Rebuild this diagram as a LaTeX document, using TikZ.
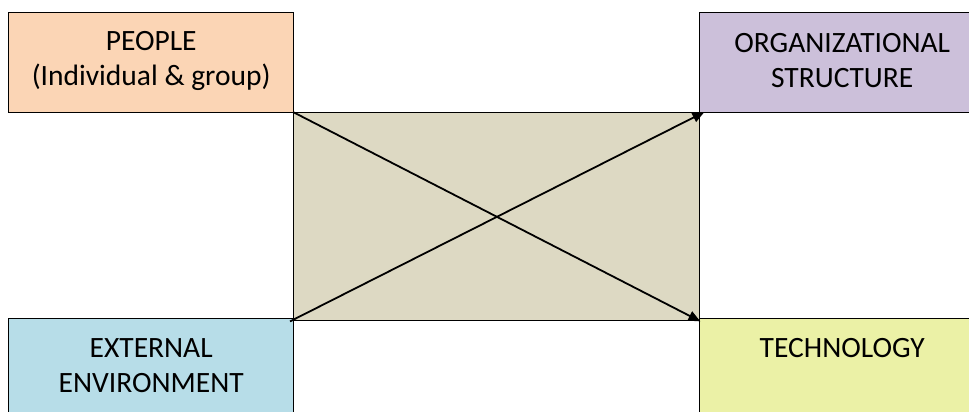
\documentclass[tikz,border=0pt]{standalone}
\usepackage{fontspec}
\setmainfont{Carlito}
\usetikzlibrary{arrows.meta}
\definecolor{peoplefill}{HTML}{FBD5B5}
\definecolor{orgfill}{HTML}{CCC0DA}
\definecolor{extfill}{HTML}{B7DDE8}
\definecolor{techfill}{HTML}{EBF1A6}
\definecolor{midfill}{HTML}{DDD9C3}
\begin{document}
\begin{tikzpicture}[x=1pt,y=-1pt,
  box/.style={draw=black, line width=1.4pt, minimum width=285pt, minimum height=100pt,
    inner sep=0pt, anchor=north west},
  boxtext/.style={font=\fontsize{29.5}{35}\selectfont, align=center, inner sep=0pt},
  link/.style={line width=1.8pt, -{Triangle[length=12pt,width=10pt]}}]
\useasboundingbox (0,0) rectangle (969,412);
\clip (0,0) rectangle (969,412);
% central field
\node[draw=black, line width=1.4pt, fill=midfill, minimum width=406pt, minimum height=208pt,
  inner sep=0pt, anchor=north west] (mid) at (293,112) {};
% four corner boxes
\node[box, fill=peoplefill] (people) at (8,12) {};
\node[box, fill=orgfill] (org) at (699,12) {};
\node[box, fill=extfill] (ext) at (8,318) {};
\node[box, fill=techfill] (tech) at (699,318) {};
% box texts
\node[boxtext] (tpeople) at ([yshift=2pt]people.center) {PEOPLE\\(Individual \& group)};
\node[boxtext] (torg) at ([yshift=2pt]org.center) {ORGANIZATIONAL\\STRUCTURE};
\node[boxtext] (text) at ([yshift=3pt]ext.center) {EXTERNAL\\ENVIRONMENT};
\node[boxtext] (ttech) at ([yshift=21pt]tech.center) {TECHNOLOGY};
% crossing arrows
\draw[link] (mid.north west) -- (mid.south east);
\draw[link] ([xshift=-3pt]mid.south west) -- ([xshift=4pt]mid.north east);
\end{tikzpicture}
\end{document}
